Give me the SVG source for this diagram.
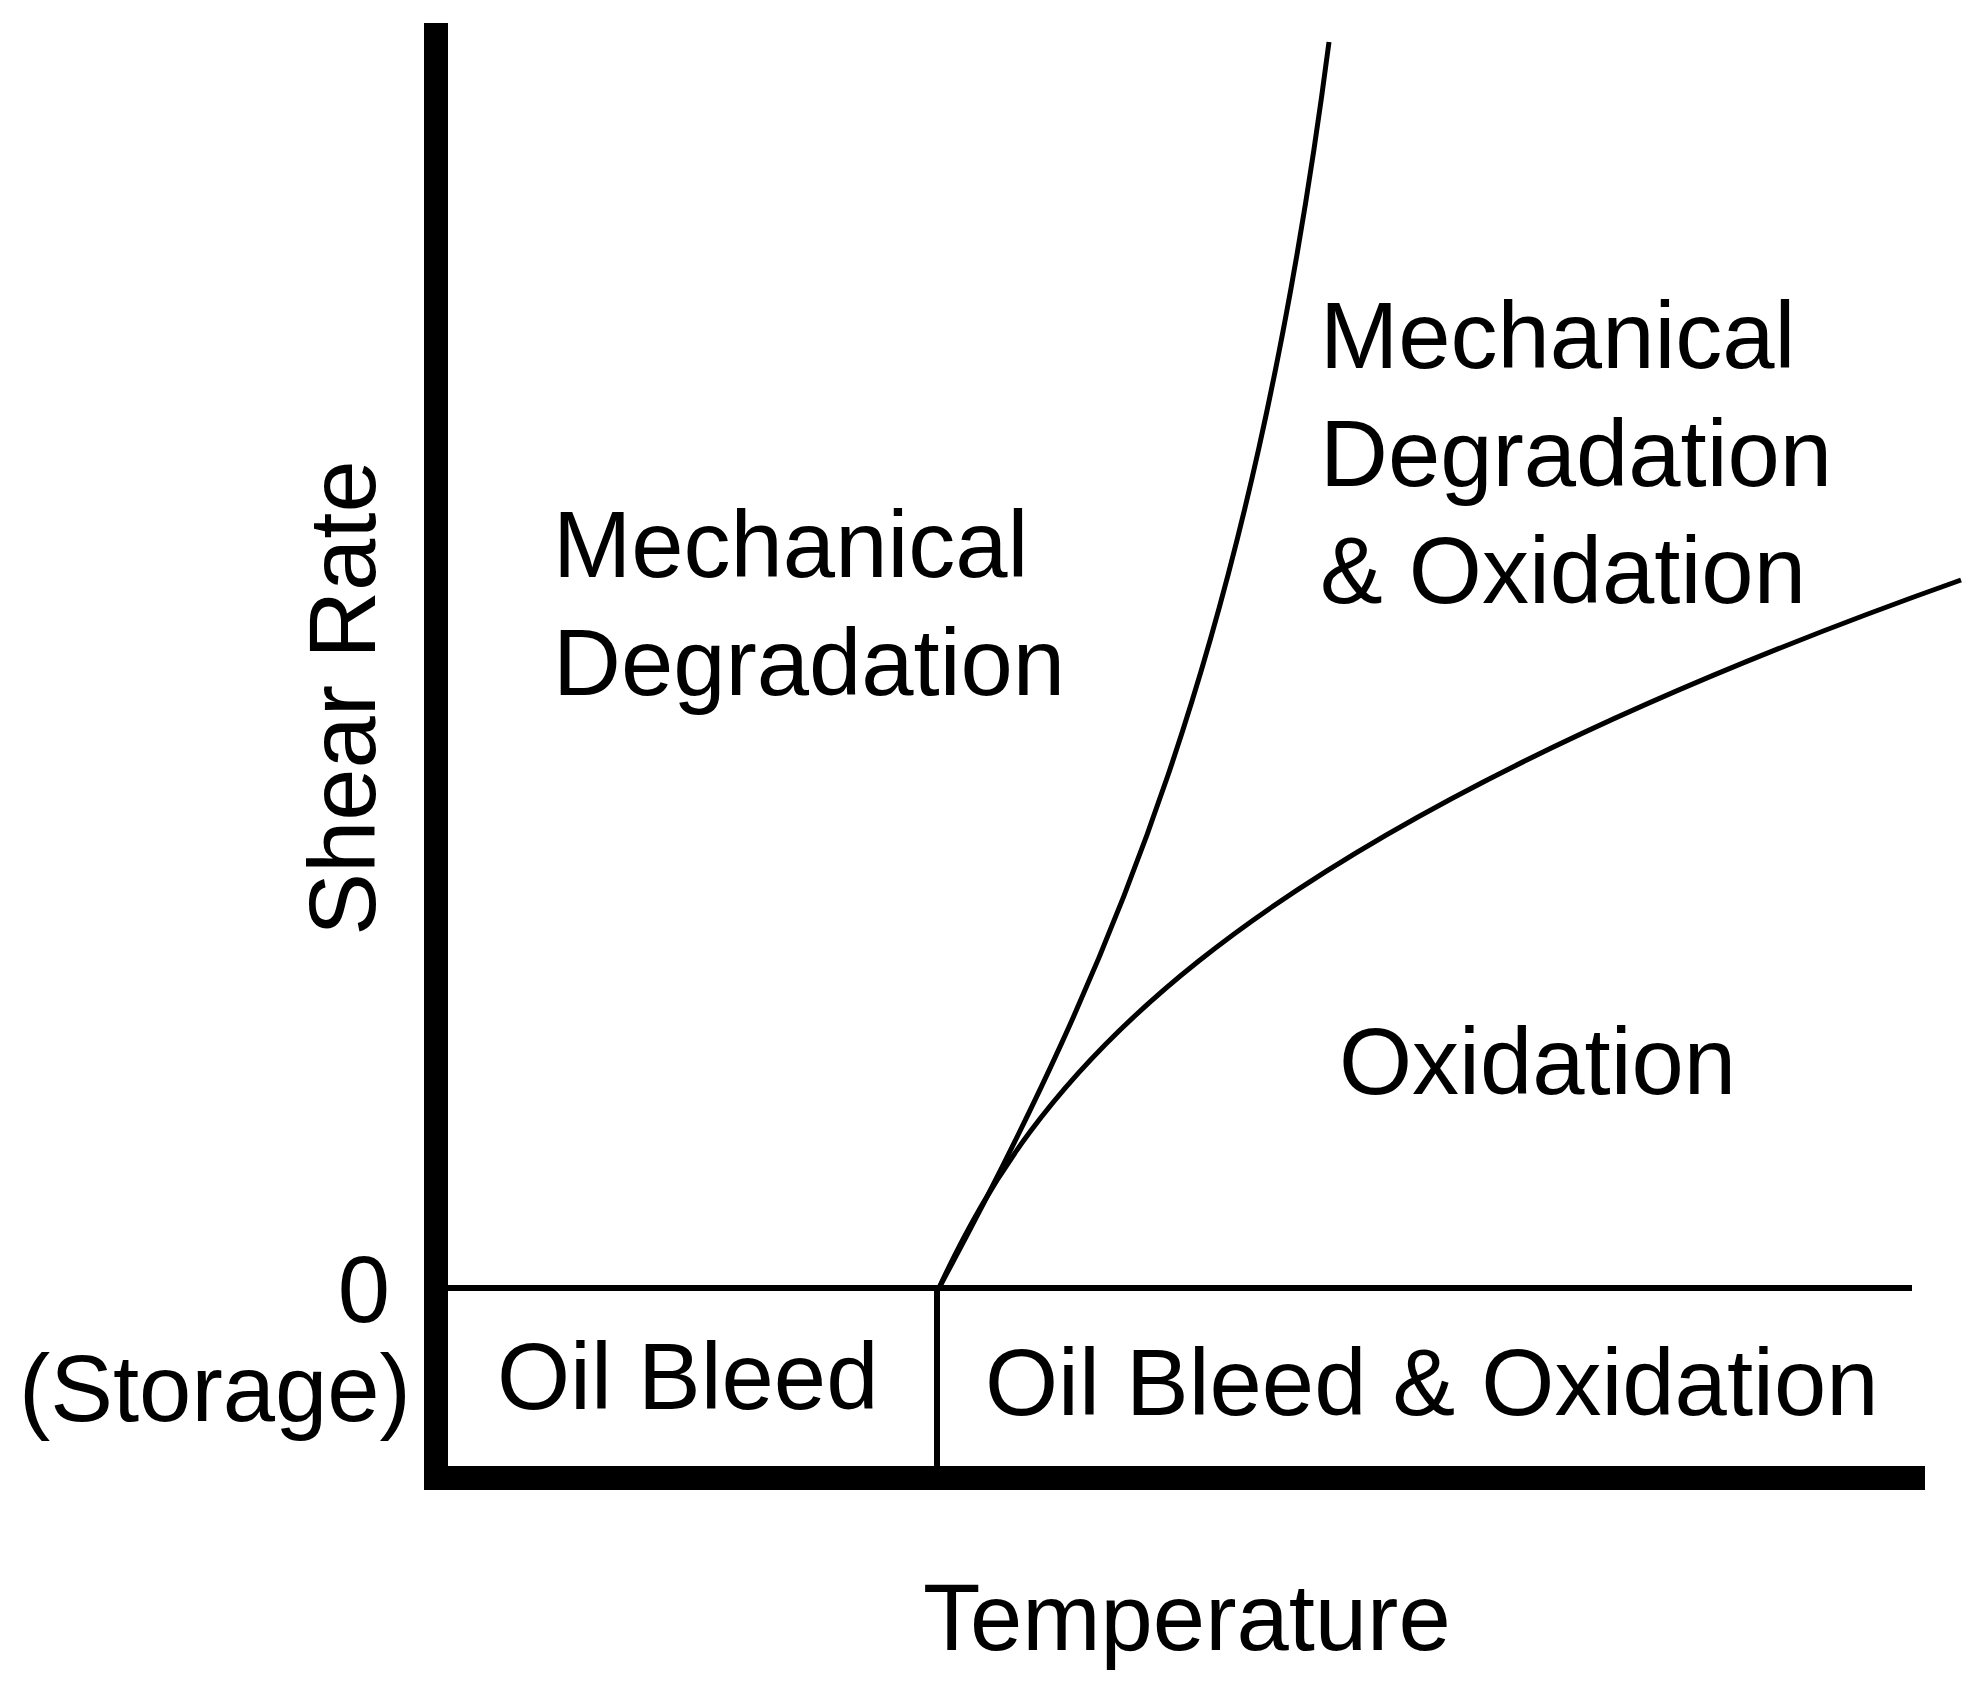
<svg xmlns="http://www.w3.org/2000/svg" width="1980" height="1703" viewBox="0 0 1980 1703">
<style>
text{font-family:"Liberation Sans",Arial,sans-serif;font-size:94px;fill:#000}
.c{fill:none;stroke:#000;stroke-width:5}
</style>
<rect width="1980" height="1703" fill="#fff"/>
<g id="axes">
<line x1="436" y1="23" x2="436" y2="1489" stroke="#000" stroke-width="24"/>
<line x1="424" y1="1478" x2="1925" y2="1478" stroke="#000" stroke-width="24"/>
<line x1="446" y1="1288" x2="1912" y2="1288" stroke="#000" stroke-width="6"/>
<line x1="937" y1="1288" x2="937" y2="1467" stroke="#000" stroke-width="6"/>
</g>
<g id="connectors">
<path class="c" d="M939,1288 C1110,970 1250,650 1329,42"/>
<path class="c" d="M939,1288 C1030,1090 1200,850 1961,580"/>
</g>
<g id="labels">
<text x="553" y="577">Mechanical</text>
<text x="553" y="695">Degradation</text>
<text x="1320" y="368">Mechanical</text>
<text x="1320" y="486">Degradation</text>
<text x="1320" y="603">&amp; Oxidation</text>
<text x="1339" y="1094">Oxidation</text>
<text x="497" y="1409">Oil Bleed</text>
<text x="985" y="1415">Oil Bleed &amp; Oxidation</text>
<text x="390" y="1322" text-anchor="end">0</text>
<text x="19" y="1421">(Storage)</text>
<text x="923" y="1650">Temperature</text>
<text transform="translate(375,698) rotate(-90)" text-anchor="middle">Shear Rate</text>
</g>
</svg>
